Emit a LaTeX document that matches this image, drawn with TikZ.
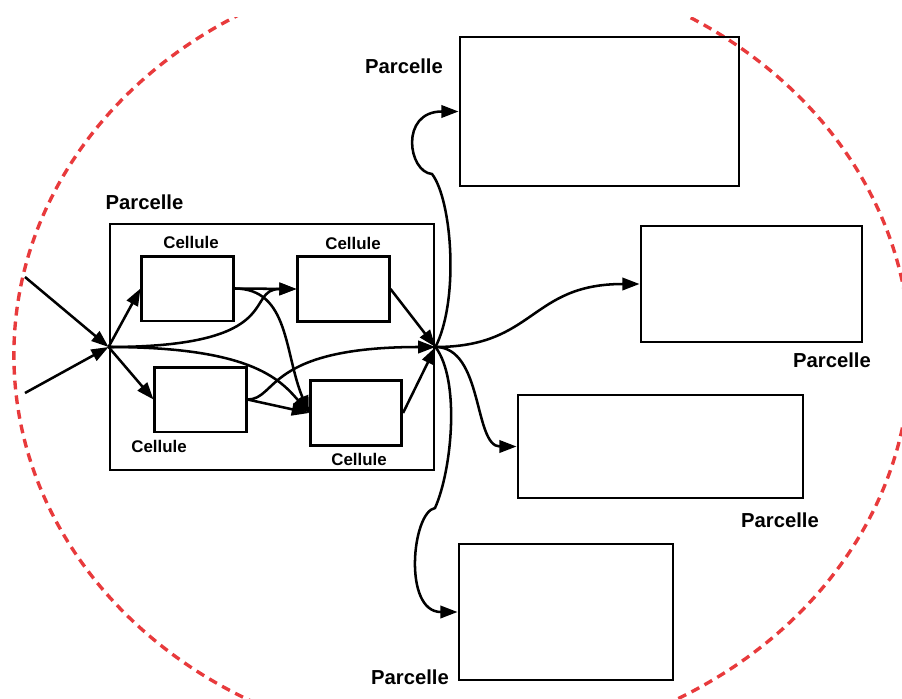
\documentclass[tikz,border=0pt]{standalone}
\usepackage{fontspec}
\setmainfont{Liberation Sans}
\usetikzlibrary{arrows.meta,positioning,calc}
\definecolor{zonered}{RGB}{232,58,60}

\begin{document}
\begin{tikzpicture}[
    x=0.025cm, y=-0.025cm,
    >={Triangle[length=4.3mm,width=3.1mm]},
    parcel/.style={rectangle, draw=black, line width=2pt, inner sep=0pt},
    cell/.style={rectangle, draw=black, line width=2pt, inner sep=0pt,
                minimum width=2.28cm, minimum height=1.62cm},
    plabel/.style={font=\bfseries\fontsize{14.4}{16}\selectfont, inner sep=0pt},
    clabel/.style={font=\bfseries\fontsize{12}{14}\selectfont, inner sep=0pt},
    arrow/.style={->, line width=1.8pt, black},
    zone/.style={draw=zonered, line width=2.4pt, dash pattern=on 0.22cm off 0.15cm}
]
    \useasboundingbox (0,0) rectangle (902,698);

    \begin{scope}
        \clip (0,17) rectangle (902,698);
        \draw[zone] (462,355) ellipse [x radius=11.2cm, y radius=9.8cm];
    \end{scope}

    % parcelle centrale et ses cellules
    \node[parcel, minimum width=8.1cm, minimum height=6.15cm] (parcel) at (272,347) {};
    \node[cell] (cellA) at (187.5,288.5) {};
    \node[cell] (cellB) at (343.5,289) {};
    \node[cell] (cellC) at (200.5,399.5) {};
    \node[cell] (cellD) at (356,413) {};

    \node[plabel] (parcelLbl) at (144.5,202) {Parcelle};
    \node[clabel] (cellALbl) at (191,242) {Cellule};
    \node[clabel] (cellBLbl) at (353,243) {Cellule};
    \node[clabel] (cellCLbl) at (159,446) {Cellule};
    \node[clabel] (cellDLbl) at (359,459) {Cellule};

    % parcelles voisines
    \node[parcel, minimum width=6.975cm, minimum height=3.725cm] (parcelA) at (599.5,111.5) {};
    \node[parcel, minimum width=5.525cm, minimum height=2.9cm] (parcelB) at (751.5,284) {};
    \node[parcel, minimum width=7.125cm, minimum height=2.575cm] (parcelC) at (660.5,446.5) {};
    \node[parcel, minimum width=5.35cm, minimum height=3.4cm] (parcelD) at (566,612) {};

    \node[plabel] (parcelALbl) at (404,66) {Parcelle};
    \node[plabel] (parcelBLbl) at (832,360) {Parcelle};
    \node[plabel] (parcelCLbl) at (780,520) {Parcelle};
    \node[plabel] (parcelDLbl) at (410,677) {Parcelle};

    \coordinate (hubin) at (parcel.west);
    \coordinate (hubout) at (parcel.east);
    \coordinate (srcA) at (25,277);
    \coordinate (srcB) at (25,393);
    \coordinate (bendA) at (432,174);
    \coordinate (bendD) at (435,508);

    % entrees
    \draw[arrow] (srcA) -- (hubin);
    \draw[arrow] (srcB) -- (hubin);

    % flux entre cellules
    \draw[arrow] (hubin) -- (cellA.west);
    \draw[arrow] (hubin) -- (cellC.west);
    \draw[arrow] (hubin) .. controls +(180,0) and +(-53,0) .. (cellB.west);
    \draw[arrow] (hubin) .. controls +(140,0) and +(-30,-35) .. (cellD.west);
    \draw[arrow] (cellA.east) -- (cellB.west);
    \draw[arrow] (cellA.east) .. controls +(55,0) and +(-25,-60) .. (cellD.west);
    \draw[arrow] (cellC.east) -- (cellD.west);
    \draw[arrow] (cellC.east) .. controls +(30,0) and +(-170,0) .. (hubout);
    \draw[arrow] (cellB.east) -- (hubout);
    \draw[arrow] (cellD.east) -- (hubout);

    % sorties vers les parcelles voisines
    \draw[arrow] (hubout) .. controls +(24,-47) and +(20,26) .. (bendA)
        .. controls +(-24,-2) and +(-59,0) .. (parcelA.west);
    \draw[arrow] (hubout) .. controls +(100,0) and +(-110,0) .. (parcelB.west);
    \draw[arrow] (hubout) .. controls +(48,0) and +(-43,0) .. (parcelC.west);
    \draw[arrow] (hubout) .. controls +(25,33) and +(17,-38) .. (bendD)
        .. controls +(-23,4) and +(-55,0) .. (parcelD.west);
\end{tikzpicture}
\end{document}
